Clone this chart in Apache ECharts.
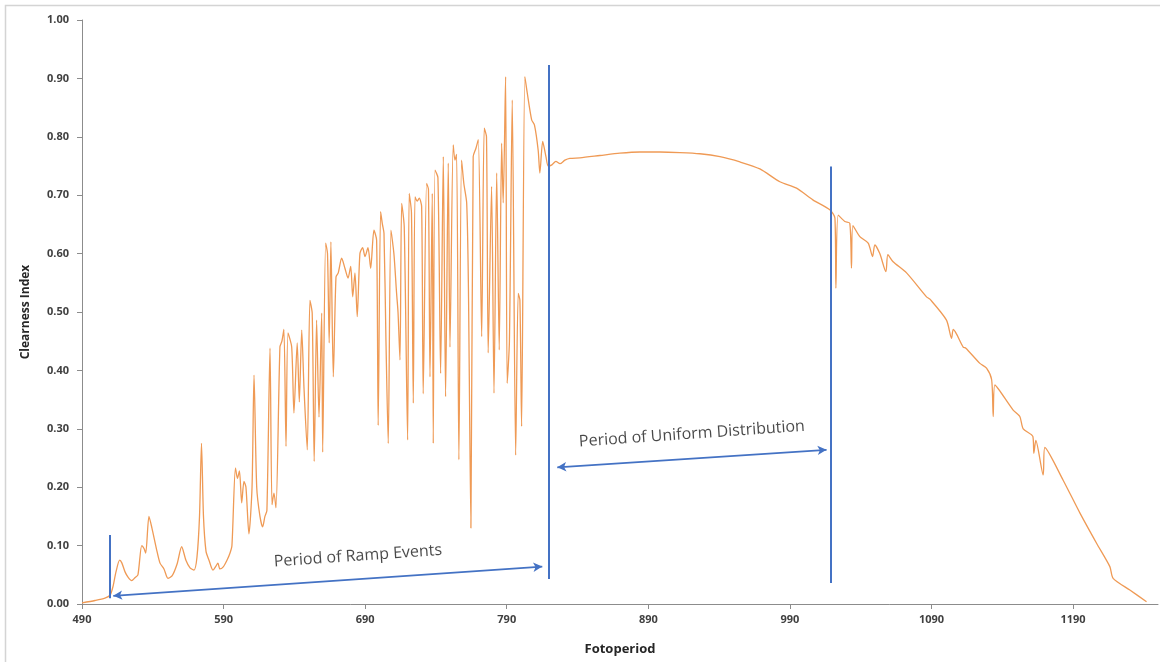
<!DOCTYPE html>
<html>
<head>
<meta charset="utf-8">
<script src="https://cdn.jsdelivr.net/npm/echarts@6/dist/echarts.min.js"></script>
<style>
html,body{margin:0;padding:0;background:#fff;}
#chart{width:1160px;height:662px;}
</style>
</head>
<body>
<div id="chart"></div>
<script>
// ---- data ----
const fotoperiod = [
  490, 499.2, 506.2, 509.8, 511.9, 514, 516.6, 518.2, 520.4, 522.5, 525.1, 527.4, 529.5, 532.2, 533.8, 535,
  537.3, 539.4, 542.8, 545.1, 547.9, 550.7, 553.6, 557.1, 560.4, 563.4, 566.3, 569.1, 571.2, 573, 574.4, 575.8,
  577.6, 579.7, 582.5, 584.6, 586, 587.4, 589.6, 592.4, 594.5, 595.9, 598.4, 599.8, 601.2, 602.8, 604.4, 605.8,
  607.9, 610.1, 611.5, 613.4, 615.7, 617.6, 619.2, 620.6, 622.8, 624.2, 625.6, 627, 629.8, 631.2, 632.6, 634.1,
  635.5, 638.1, 639.7, 642, 643.5, 645.2, 646.8, 649.1, 651, 652.6, 654, 655.7, 657.4, 659.3, 660, 662.1,
  663.4, 664.6, 665.8, 667.5, 669.4, 671, 673.4, 675.7, 677.9, 679.8, 681.2, 682.8, 684.4, 686.3, 688.2, 689.9,
  692, 693.9, 696.2, 698.1, 699.2, 700.9, 702.2, 703.3, 704.7, 706.3, 708.2, 710.3, 712.2, 713.2, 714.6, 715.8,
  717.6, 720, 721.1, 722.7, 724, 725.2, 726.8, 728.2, 729.9, 731, 733.4, 734.7, 735.8, 737.4, 738.1, 739.3,
  741.4, 743.3, 745.2, 746.8, 748.7, 749.9, 752.2, 753.4, 754.6, 756.2, 758.1, 759.7, 761.7, 762.9, 764.7, 766.3,
  768.2, 769.9, 772.3, 774.1, 775.7, 776.9, 779.3, 781, 782.9, 784.7, 786.4, 787.5, 789.2, 790.3, 791.9, 793.9,
  796.3, 798.1, 799.3, 800.5, 802.8, 804.5, 807.6, 809.6, 812.2, 813.4, 815.4, 817.7, 819.3, 821.9, 824.7, 827.6,
  831.1, 834.6, 841.7, 855.8, 869.9, 884.1, 898.2, 912.3, 926.4, 940.6, 954.7, 968.8, 982.9, 994.7, 1006.2, 1018.2,
  1021.8, 1022.5, 1024.1, 1028.8, 1032.3, 1033.5, 1034.5, 1039.4, 1045.3, 1048.4, 1050, 1053.5, 1057.8, 1059.2, 1062.9, 1072.4,
  1086.5, 1088.9, 1100.6, 1104.2, 1105.4, 1112.4, 1114.3, 1124.2, 1128.9, 1132.5, 1133.6, 1134.8, 1147.7, 1152.4, 1154.8, 1161.6,
  1162.3, 1163.7, 1168.9, 1170.1, 1183, 1194.8, 1206.6, 1216, 1218.3, 1230.1, 1241.9
];
const clearnessIndex = [
  0.002, 0.006, 0.01, 0.015, 0.03, 0.055, 0.075, 0.07, 0.055, 0.046, 0.04, 0.045, 0.05, 0.10, 0.095, 0.087,
  0.15, 0.13, 0.092, 0.07, 0.06, 0.044, 0.048, 0.068, 0.098, 0.075, 0.062, 0.058, 0.08, 0.15, 0.275, 0.15,
  0.09, 0.075, 0.058, 0.065, 0.07, 0.06, 0.063, 0.075, 0.087, 0.10, 0.233, 0.215, 0.228, 0.173, 0.21, 0.20,
  0.12, 0.20, 0.392, 0.20, 0.15, 0.132, 0.15, 0.16, 0.438, 0.17, 0.19, 0.165, 0.44, 0.45, 0.47, 0.27,
  0.464, 0.44, 0.327, 0.447, 0.346, 0.469, 0.37, 0.264, 0.52, 0.498, 0.244, 0.486, 0.32, 0.498, 0.26, 0.618,
  0.60, 0.447, 0.62, 0.389, 0.56, 0.567, 0.592, 0.575, 0.558, 0.578, 0.526, 0.567, 0.492, 0.60, 0.61, 0.595,
  0.61, 0.575, 0.64, 0.623, 0.306, 0.672, 0.65, 0.635, 0.45, 0.275, 0.64, 0.60, 0.532, 0.50, 0.418, 0.686,
  0.646, 0.281, 0.703, 0.67, 0.344, 0.697, 0.69, 0.695, 0.68, 0.36, 0.72, 0.71, 0.389, 0.703, 0.275, 0.743,
  0.73, 0.395, 0.766, 0.355, 0.755, 0.44, 0.786, 0.76, 0.77, 0.247, 0.76, 0.72, 0.687, 0.55, 0.13, 0.766,
  0.78, 0.795, 0.458, 0.815, 0.80, 0.43, 0.715, 0.361, 0.738, 0.435, 0.789, 0.687, 0.903, 0.378, 0.45, 0.863,
  0.255, 0.532, 0.52, 0.304, 0.903, 0.875, 0.829, 0.82, 0.777, 0.738, 0.792, 0.766, 0.75, 0.752, 0.758, 0.754,
  0.76, 0.763, 0.764, 0.768, 0.772, 0.774, 0.774, 0.773, 0.771, 0.766, 0.757, 0.745, 0.723, 0.712, 0.692, 0.675,
  0.661, 0.541, 0.666, 0.655, 0.652, 0.575, 0.648, 0.629, 0.618, 0.595, 0.615, 0.60, 0.569, 0.598, 0.586, 0.567,
  0.526, 0.522, 0.486, 0.455, 0.47, 0.44, 0.438, 0.412, 0.404, 0.384, 0.321, 0.375, 0.332, 0.321, 0.30, 0.287,
  0.258, 0.28, 0.221, 0.268, 0.212, 0.156, 0.104, 0.064, 0.044, 0.024, 0.004
];
const xTickValues = [490, 590, 690, 790, 890, 990, 1090, 1190];

// period boundary markers: x, top, bottom
const boundaryX = [509.5, 820, 1018.7];
const boundaryTop = [0.118, 0.923, 0.749];
const boundaryBottom = [0.010, 0.043, 0.036];

// double-headed arrows: [x1, y1, x2, y2]
const rampArrow = [512.1, 0.014, 815.1, 0.064];
const uniformArrow = [825.7, 0.234, 1015.9, 0.264];

// annotation texts and their anchor points
const annotationTexts = ['Period of Ramp Events', 'Period of Uniform Distribution'];
const annotationX = [684.9, 920.8];
const annotationY = [0.082, 0.291];

// ---- chart ----
const seriesData = fotoperiod.map((x, i) => [x, clearnessIndex[i]]);

const markLines = boundaryX.map((x, i) => [
  { coord: [x, boundaryBottom[i]], symbol: 'none' },
  { coord: [x, boundaryTop[i]], symbol: 'none' }
]);
[rampArrow, uniformArrow].forEach(a => {
  markLines.push([
    { coord: [a[0], a[1]], symbol: 'arrow', symbolSize: [7, 9], lineStyle: { width: 1.8 } },
    { coord: [a[2], a[3]], symbol: 'arrow', symbolSize: [7, 9] }
  ]);
});

const FONT = '"Open Sans", "Liberation Sans", sans-serif';
const axisColor = '#8c8c8c';

const chart = echarts.init(document.getElementById('chart'), null, { renderer: 'canvas' });
chart.setOption({
  animation: false,
  backgroundColor: '#ffffff',
  graphic: [{
    type: 'rect',
    shape: { x: 5.5, y: 5.5, width: 1180, height: 700 },
    style: { fill: 'none', stroke: '#d4d4d4', lineWidth: 1.5 },
    silent: true
  }],
  grid: { left: 82, right: 2, top: 20, bottom: 58 },
  xAxis: {
    type: 'value',
    min: 490,
    max: 1250,
    name: 'Fotoperiod',
    nameLocation: 'middle',
    nameGap: 39,
    nameTextStyle: { fontFamily: FONT, fontSize: 13, fontWeight: 'bold', color: '#262626' },
    axisLine: { show: true, lineStyle: { color: axisColor, width: 1 } },
    axisTick: { show: true, customValues: xTickValues, length: 5, lineStyle: { color: axisColor } },
    axisLabel: {
      customValues: xTickValues,
      formatter: v => String(v),
      margin: 10,
      fontFamily: FONT, fontSize: 11, fontWeight: 'bold', color: '#404040'
    },
    splitLine: { show: false }
  },
  yAxis: {
    type: 'value',
    min: 0,
    max: 1,
    interval: 0.1,
    name: 'Clearness Index',
    nameLocation: 'middle',
    nameGap: 50,
    nameTextStyle: { fontFamily: FONT, fontSize: 12, fontWeight: 'bold', color: '#262626' },
    axisLine: { show: true, lineStyle: { color: axisColor, width: 1 } },
    axisTick: { show: true, length: 5, lineStyle: { color: axisColor } },
    axisLabel: {
      formatter: v => v.toFixed(2),
      margin: 13,
      fontFamily: FONT, fontSize: 11, fontWeight: 'bold', color: '#404040'
    },
    splitLine: { show: false }
  },
  series: [
    {
      type: 'line',
      data: seriesData,
      showSymbol: false,
      smooth: 0.25,
      lineStyle: { color: '#EF9A55', width: 1.3 },
      itemStyle: { color: '#EF9A55' },
      silent: true,
      markLine: {
        silent: true,
        animation: false,
        symbol: ['none', 'none'],
        label: { show: false },
        emphasis: { disabled: true },
        lineStyle: { color: '#4472C4', width: 2, type: 'solid' },
        data: markLines
      }
    },
    {
      type: 'scatter',
      data: annotationX.map((x, i) => ({ value: [x, annotationY[i]], name: annotationTexts[i] })),
      symbolSize: 1,
      itemStyle: { color: 'rgba(0,0,0,0)' },
      silent: true,
      label: {
        show: true,
        position: 'inside',
        formatter: p => p.name,
        rotate: 4,
        fontFamily: FONT,
        fontSize: 16,
        fontWeight: 'normal',
        color: '#1a1a1a'
      }
    }
  ]
});
</script>
</body>
</html>
